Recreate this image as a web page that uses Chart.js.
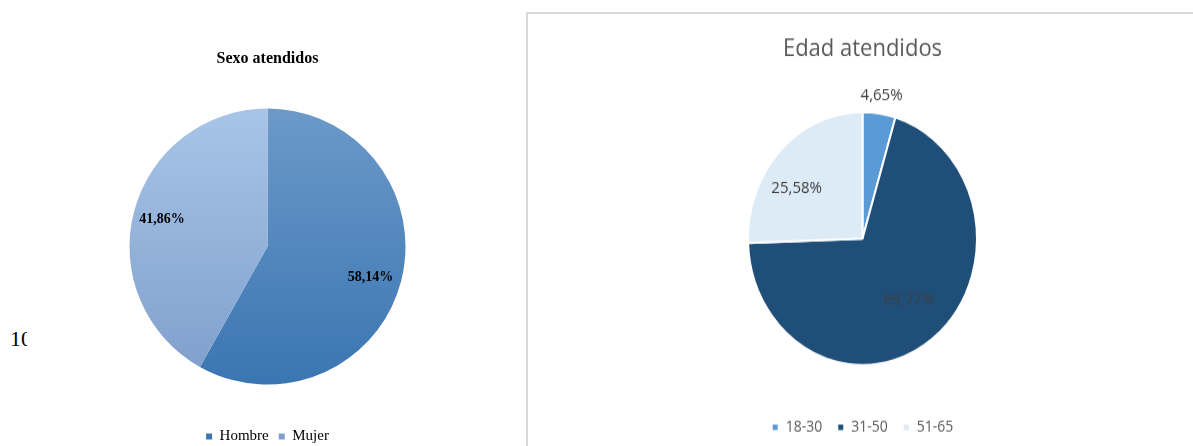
<!DOCTYPE html>
<html>
<head>
<meta charset="utf-8">
<script src="https://cdn.jsdelivr.net/npm/chart.js@4.4.1/dist/chart.umd.min.js"></script>
<style>
  html, body { margin:0; padding:0; background:#fff; }
  body { width:1193px; height:446px; overflow:hidden; position:relative; }
  #stray { position:absolute; left:10px; top:326px; width:17px; overflow:hidden; white-space:nowrap;
           font:22px 'Liberation Serif', serif; color:#000; }
  #sexo { position:absolute; left:40px; top:0; }
  #frame { position:absolute; left:526px; top:12px; width:667px; height:434px; box-sizing:border-box;
           border-left:2px solid #d9d9d9; border-top:2px solid #d9d9d9; }
  #edad { position:absolute; left:528px; top:14px; transform:scaleY(1.105); transform-origin:0 0; }
</style>
</head>
<body>
<div id="stray">10</div>
<canvas id="sexo" width="455" height="454"></canvas>
<div id="frame"></div>
<canvas id="edad" width="665" height="391"></canvas>
<script>
// --- data ---
const sexoLabels = ['Hombre', 'Mujer'];
const sexoValues = [58.14, 41.86];
const edadLabels = ['18-30', '31-50', '51-65'];
const edadValues = [4.65, 69.77, 25.58];

// top / bottom shade of each sexo slice
const sexoTop    = ['#6c99c8', '#a8c5e8'];
const sexoBottom = ['#3a76b2', '#7e9ecb'];

Chart.defaults.animation = false;

const pct = v => v.toFixed(2).replace('.', ',') + '%';

// percentage labels, placed by [fraction along the slice, fraction of the radius]
const sliceLabels = {
  id: 'sliceLabels',
  afterDatasetsDraw(chart, args, opts) {
    const { ctx } = chart;
    const vals = chart.data.datasets[0].data;
    ctx.save();
    ctx.font = opts.font;
    ctx.fillStyle = opts.color;
    ctx.textAlign = 'center';
    ctx.textBaseline = 'middle';
    chart.getDatasetMeta(0).data.forEach((arc, i) => {
      const { x, y, startAngle, endAngle, outerRadius } =
        arc.getProps(['x', 'y', 'startAngle', 'endAngle', 'outerRadius'], true);
      const [fa, fr] = opts.place[i] || [0.5, 0.7];
      const a = startAngle + (endAngle - startAngle) * fa;
      ctx.fillText(pct(vals[i]), x + Math.cos(a) * outerRadius * fr, y + Math.sin(a) * outerRadius * fr);
    });
    ctx.restore();
  }
};

// vertical shading like the original office chart
function sexoFill(ctx) {
  const i = ctx.dataIndex;
  const area = ctx.chart.chartArea;
  if (!area) return sexoTop[i];
  const cy = (area.top + area.bottom) / 2, r = 138;
  const g = ctx.chart.ctx.createLinearGradient(0, cy - r, 0, cy + r);
  g.addColorStop(0, sexoTop[i]);
  g.addColorStop(1, sexoBottom[i]);
  return g;
}

new Chart(document.getElementById('sexo'), {
  type: 'pie',
  data: {
    labels: sexoLabels,
    datasets: [{ data: sexoValues, backgroundColor: sexoFill, borderWidth: 0 }]
  },
  options: {
    responsive: false,
    radius: 138,
    layout: { padding: 0 },
    plugins: {
      title: { display: true, text: 'Sexo atendidos', color: '#000',
               font: { family: 'Liberation Serif', size: 16, weight: 'bold' },
               padding: { top: 49, bottom: 6 } },
      legend: { position: 'bottom',
                labels: { color: '#000', boxWidth: 6, boxHeight: 6, padding: 10,
                          font: { family: 'Liberation Serif', size: 15 } } },
      tooltip: { enabled: false },
      sliceLabels: { font: 'bold 14px "Liberation Serif"', color: '#000',
                     place: [[0.51, 0.78], [0.5, 0.79]] }
    }
  },
  plugins: [sliceLabels]
});

new Chart(document.getElementById('edad'), {
  type: 'pie',
  data: {
    labels: edadLabels,
    datasets: [{
      data: edadValues,
      backgroundColor: ['#5b9bd5', '#1f4e79', '#ddebf7'],
      borderColor: '#fff',
      borderWidth: 2
    }]
  },
  options: {
    responsive: false,
    radius: 114.5,
    layout: { padding: { left: 4 } },
    plugins: {
      title: { display: true, text: 'Edad atendidos', color: '#595959',
               font: { family: 'Open Sans', size: 22, weight: 'normal' },
               padding: { top: 19, bottom: 9 } },
      legend: { position: 'bottom',
                labels: { color: '#595959', boxWidth: 7, boxHeight: 7, padding: 15,
                          font: { family: 'Open Sans', size: 14 } } },
      tooltip: { enabled: false },
      sliceLabels: { font: '15px "Open Sans"', color: '#404040',
                     place: [[0.5, 1.145], [0.49, 0.63], [0.4, 0.7]] }
    }
  },
  plugins: [sliceLabels]
});
</script>
</body>
</html>
